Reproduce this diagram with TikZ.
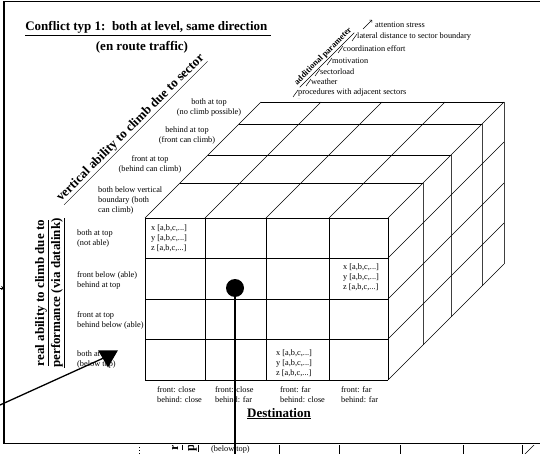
\documentclass[tikz,border=0pt]{standalone}
\usepackage{fontspec}
\setmainfont{Liberation Serif}
\usetikzlibrary{shapes.geometric, arrows, positioning}

\newcommand{\cellxyz}{x [a,b,c,...]\\y [a,b,c,...]\\z [a,b,c,...]}

\begin{document}
\begin{tikzpicture}[
            x=1pt, y=-1pt,
            >=stealth,
            grid/.style={draw, line width=0.6pt},
            frame/.style={draw, line width=1.6pt},
            lbl/.style={font=\fontsize{8.3}{10}\selectfont, inner sep=0pt, align=left},
            clbl/.style={lbl, align=center},
            head/.style={font=\fontsize{13}{16}\selectfont\bfseries, inner sep=0pt, align=center},
            parm/.style={font=\fontsize{8.3}{10}\selectfont, inner sep=0pt, anchor=west},
            parmark/.style={draw, line width=0.5pt}
        ]
            \useasboundingbox (0,0) rectangle (540,454);
            \clip (0,0) rectangle (540,454);

            % Rahmen
            \draw [frame] (540,1.5) -- (4,1.5) -- (4,443.5) -- (540,443.5);

            % Titel
            \node [head, anchor=base] (title) at (148,31) {\underline{Conflict typ 1:\ \ both at level, same direction\ }};
            \node [head, below=5pt of title, xshift=-6pt] (subtitle) {(en route traffic)};

            % Wuerfel: Vorderseite, Oberseite, rechte Seite
            \foreach \c in {145,205,266,329,388}
                \draw [grid] (\c,218) -- (\c,380);
            \foreach \r in {218,258,299,339,380}
                \draw [grid] (145,\r) -- (388,\r);
            \foreach \d in {35,63,94,116}
                \draw [grid] (145+\d,218-\d) -- (388+\d,218-\d);
            \foreach \c in {145,205,266,329,388}
                \draw [grid] (\c,218) -- (\c+116,102);
            \foreach \d in {35,63,94,116}
                \draw [grid, black!75] (388+\d,218-\d) -- (388+\d,380-\d);
            \foreach \r in {258,299,339,380}
                \draw [grid] (388,\r) -- (504,\r-116);

            % Achsentitel
            \node [head, rotate=45, anchor=base west] (vertab) at (61,202) {\underline{vertical ability to climb due to sector}};
            \node [head, rotate=90] (realab) at (50,293) {\underline{real ability to climb due to}\\\underline{performance (via datalink)}};
            \node [head, anchor=base] (dest) at (279,417) {\underline{Destination}};

            % Tiefe (Oberseite)
            \node [clbl] (dep4) at (209,108) {both at top\\(no climb possible)};
            \node [clbl] (dep3) at (187,136) {behind at top\\(front can climb)};
            \node [clbl] (dep2) at (150,164) {front at top\\(behind can climb)};
            \node [lbl, anchor=west] (dep1) at (98,201) {both below vertical\\boundary (both\\can climb)};

            % Zeilen (Vorderseite)
            \node [lbl, anchor=west] (row1) at (77,239) {both at top\\(not able)};
            \node [lbl, anchor=west] (row2) at (77,280) {front below (able)\\behind at top};
            \node [lbl, anchor=west] (row3) at (77,320) {front at top\\behind below (able)};
            \node [lbl, anchor=west] (row4) at (77,360) {both at top\\(below top)};

            % Spalten
            \foreach \x/\f/\b [count=\i] in {157/close/close, 215/close/far, 280/far/close, 341/far/far}
                \node [lbl, anchor=west] (col\i) at (\x,395) {front: \f\\behind: \b};

            % Zellwerte
            \node [lbl, anchor=west] (val1) at (151,238) {\cellxyz};
            \node [lbl, anchor=west] (val2) at (343,277) {\cellxyz};
            \node [lbl, anchor=west] (val3) at (276,363) {\cellxyz};

            % weitere Parameter
            \node [head, font=\fontsize{8.5}{10}\selectfont\bfseries, rotate=45] (addpar) at (324,57) {\underline{additional parameter}};
            \node [parm] (par0) at (375,25) {attention stress};
            \draw [-to, line width=0.5pt] ([xshift=-12pt, yshift=-4pt]par0.west) -- ([xshift=-3pt, yshift=5pt]par0.west);
            \foreach \x/\y/\t [count=\i] in {357/37/lateral distance to sector boundary, 343/49/coordination effort, 332/61/motivation, 320/72/sectorload, 311/82/weather, 298/93/procedures with adjacent sectors}{
                \node [parm] (par\i) at (\x,\y) {\t};
                \draw [parmark] ([xshift=-5pt, yshift=-4pt]par\i.west) -- ([yshift=3pt]par\i.west);
            }
            \node [font=\fontsize{4}{4}\selectfont, text=gray, inner sep=0pt] (pardots) at (299,99) {...};

            % Punkt und Dreieck
            \node [circle, fill, inner sep=0pt, minimum size=18pt] (dot) at (235,288) {};
            \coordinate (dotend) at (235,454);
            \draw [line width=1.6pt] (dot.center) -- (dotend);
            \node [regular polygon, regular polygon sides=3, shape border rotate=180, fill, inner sep=0pt, minimum size=23pt] (tri) at (108,356) {};
            \coordinate (lfta) at (0,405);
            \draw [line width=1.3pt] (lfta) -- (tri.center);
            \coordinate (lftb) at (0,288);
            \coordinate (lftbend) at (5,288);
            \draw [->, line width=0.8pt] (lftb) -- (lftbend);

            % Streifen unter dem Rahmen
            \begin{scope}
                \clip (0,445) rectangle (540,454);
                \draw [dotted, line width=1pt] (139,444) -- (139,454);
                \node [head, rotate=90] (realabb) at (184,377) {\underline{real ability to climb due to}\\\underline{performance (via datalink)}};
                \node [lbl, anchor=west] (row4b) at (211,444) {both at top\\(below top)};
                \foreach \c in {279,339,400,463,522}
                    \draw [grid] (\c,444) -- (\c,454);
                \draw [grid] (522,457) -- (540,439);
            \end{scope}
        \end{tikzpicture}
\end{document}
